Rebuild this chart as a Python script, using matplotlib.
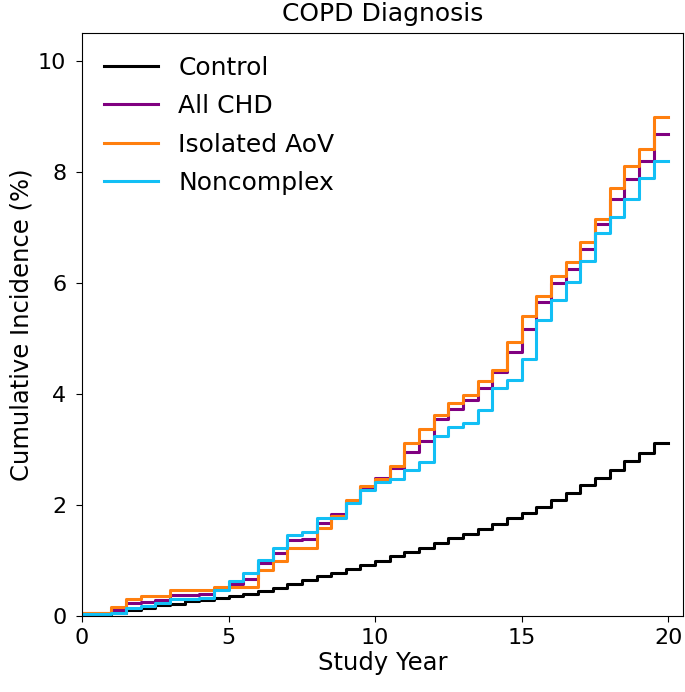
import numpy as np
import matplotlib
matplotlib.use('Agg')
import matplotlib.pyplot as plt

# step start times (years), one value per half-year interval
step_years = np.arange(0, 20, 0.5)
end_year = 20

control = [0.00, 0.00, 0.06, 0.11, 0.15, 0.19, 0.22, 0.26, 0.29, 0.32,
           0.35, 0.40, 0.44, 0.50, 0.58, 0.64, 0.71, 0.77, 0.85, 0.92,
           0.99, 1.08, 1.16, 1.23, 1.31, 1.40, 1.47, 1.56, 1.65, 1.76,
           1.86, 1.97, 2.09, 2.22, 2.36, 2.49, 2.63, 2.79, 2.94, 3.11]

all_chd = [0.06, 0.06, 0.11, 0.23, 0.25, 0.29, 0.38, 0.38, 0.40, 0.50,
           0.58, 0.67, 0.95, 1.13, 1.36, 1.38, 1.68, 1.83, 2.07, 2.33,
           2.49, 2.66, 2.96, 3.16, 3.55, 3.72, 3.89, 4.10, 4.39, 4.76,
           5.17, 5.65, 5.99, 6.26, 6.61, 7.06, 7.51, 7.88, 8.20, 8.68]

isolated_aov = [0.06, 0.06, 0.16, 0.30, 0.36, 0.36, 0.46, 0.46, 0.46, 0.52,
                0.52, 0.52, 0.83, 0.98, 1.23, 1.23, 1.58, 1.80, 2.09, 2.34,
                2.46, 2.70, 3.11, 3.37, 3.62, 3.83, 3.98, 4.23, 4.43, 4.94,
                5.41, 5.77, 6.13, 6.37, 6.73, 7.15, 7.71, 8.11, 8.41, 8.99]

noncomplex = [0.04, 0.04, 0.05, 0.14, 0.17, 0.23, 0.30, 0.30, 0.32, 0.47,
              0.62, 0.77, 1.01, 1.23, 1.46, 1.52, 1.77, 1.77, 2.03, 2.27,
              2.41, 2.47, 2.63, 2.78, 3.24, 3.40, 3.47, 3.71, 4.10, 4.25,
              4.63, 5.33, 5.69, 6.02, 6.40, 6.90, 7.19, 7.51, 7.89, 8.20]

series = [('Control', control, 'black'),
          ('All CHD', all_chd, 'purple'),
          ('Isolated AoV', isolated_aov, '#FF7F0E'),
          ('Noncomplex', noncomplex, '#12BFF5')]

fig = plt.figure(figsize=(6.85, 6.92), dpi=100)
ax = fig.add_axes([0.1197, 0.110, 0.8773, 0.842])

x = np.append(step_years, end_year)
for label, vals, color in series:
    y = np.append(vals, vals[-1])
    ax.step(x, y, where='post', color=color, lw=2.2, label=label)

ax.set_xlim(0, 20.5)
ax.set_ylim(0, 10.5)
ax.set_xticks([0, 5, 10, 15, 20])
ax.set_yticks([0, 2, 4, 6, 8, 10])
ax.tick_params(labelsize=16, length=4.3)
ax.tick_params(axis='y', pad=7)
ax.tick_params(axis='x', pad=4.5)
ax.set_xlabel('Study Year', fontsize=17.5, labelpad=2)
ax.set_ylabel('Cumulative Incidence (%)', fontsize=17.5, labelpad=3)
ax.set_title('COPD Diagnosis', fontsize=18, pad=9)
ax.legend(loc='upper left', frameon=False, fontsize=18,
          handlelength=2.15, labelspacing=0.58)

fig.savefig('out.png', dpi=100)
